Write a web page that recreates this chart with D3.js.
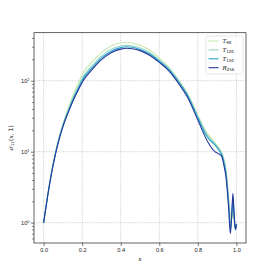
<!DOCTYPE html>
<html>
<head>
<meta charset="utf-8">
<script src="https://cdn.jsdelivr.net/npm/d3@7"></script>
<style>
  html, body { margin: 0; padding: 0; background: #fff; }
  svg { display: block; font-family: "DejaVu Sans", sans-serif; }
  .grid line { stroke: #b0b0b0; stroke-width: 0.6; stroke-dasharray: 1.2,1.2; }
  .axis-g text { font-size: 5.6px; fill: #222; }
  .axis-g line { stroke: #222; stroke-width: 0.6; }
  .line-path { fill: none; stroke-width: 1.1; stroke-linejoin: round; }
  .math { font-family: "DejaVu Serif", serif; font-style: italic; }
</style>
</head>
<body>
<div id="chart"></div>
<script>
// sample positions along x
const xs = [0, 0.02, 0.04, 0.06, 0.08, 0.10, 0.13, 0.16, 0.18, 0.205, 0.25, 0.30, 0.35, 0.40, 0.43, 0.46, 0.50, 0.55, 0.60, 0.65, 0.69, 0.75, 0.80, 0.85, 0.888, 0.913, 0.925, 0.935, 0.948, 0.96, 0.969, 0.976, 0.982, 0.988, 0.995, 1.0];

const t90  = [1.0, 2.35, 5.0, 9.5, 16.2, 25.1, 43.4, 70.7, 93, 129, 183, 249, 308, 342, 347, 340, 315, 268, 210, 155, 112, 64, 33, 18, 13.5, 11, 9.5, 8.0, 5.2, 2.3, 1.3, 1.1, 1.4, 1.1, 0.85, 0.95];
const t120 = [1.0, 2.33, 4.9, 9.2, 15.5, 23.7, 40, 64, 83, 114, 160, 222, 276, 308, 316, 310, 288, 247, 196, 148, 108, 61, 31, 17, 13, 10.6, 9.3, 7.6, 4.8, 2.0, 1.0, 1.2, 1.8, 1.2, 0.82, 0.95];
const t150 = [1.0, 2.31, 4.85, 9.05, 15.1, 23, 38.5, 60.5, 78, 107, 150, 209, 260, 292, 300, 295, 275, 237, 188, 143, 105, 60, 30, 16, 12.5, 10.2, 9.0, 7.2, 4.5, 1.8, 0.8, 1.3, 2.2, 1.3, 0.8, 0.95];
const r256 = [1.0, 2.3, 4.8, 8.9, 14.8, 22.4, 37, 57.5, 74, 100, 142, 198, 248, 278, 286, 281, 265, 228, 181, 138, 100, 56, 28, 14, 10, 9.2, 8.5, 6.5, 4.0, 1.6, 0.7, 1.3, 2.6, 1.4, 0.8, 0.95];

const seriesNames = ["T90", "T120", "T150", "R256"];
const seriesColors = ["#c6e8b0", "#8ed4c2", "#2a9fcc", "#24379a"];
const xTicks = [0, 0.2, 0.4, 0.6, 0.8, 1.0];
const yTicks = [1, 10, 100];

const width = 274, height = 274;
const marginLeft = 34, marginRight = 28, marginTop = 32.7, marginBottom = 31;

const x = d3.scaleLinear().domain([-0.05, 1.05]).range([marginLeft, width - marginRight]);
const y = d3.scaleLog().domain([0.518, 474]).range([height - marginBottom, marginTop]);

const svg = d3.select("#chart").append("svg")
  .attr("width", width).attr("height", height)
  .attr("viewBox", [0, 0, width, height]);

// grid
const grid = svg.append("g").attr("class", "grid");
grid.selectAll(".gx").data(xTicks).join("line")
  .attr("x1", d => x(d)).attr("x2", d => x(d))
  .attr("y1", marginTop).attr("y2", height - marginBottom);
grid.selectAll(".gy").data(yTicks).join("line")
  .attr("y1", d => y(d)).attr("y2", d => y(d))
  .attr("x1", marginLeft).attr("x2", width - marginRight);

// lines
const series = [t90, t120, t150, r256].map((values, i) => ({
  name: seriesNames[i], color: seriesColors[i], values
}));

const line = d3.line()
  .x((_, i) => x(xs[i]))
  .y(d => y(d))
  .curve(d3.curveMonotoneX);

svg.append("g").selectAll(".line-path").data(series).join("path")
  .attr("class", "line-path")
  .attr("stroke", d => d.color)
  .attr("d", d => line(d.values));

// axes
svg.append("g").attr("class", "axis-g")
  .attr("transform", `translate(0,${height - marginBottom})`)
  .call(d3.axisBottom(x).tickValues(xTicks).tickFormat(d3.format(".1f")).tickSize(3).tickPadding(2))
  .call(g => g.select(".domain").remove());

const minorTicks = [];
for (const dec of [0.1, 1, 10, 100]) {
  for (let k = 2; k <= 9; k++) {
    const v = dec * k;
    if (v >= y.domain()[0] && v <= y.domain()[1]) minorTicks.push(v);
  }
}
svg.append("g").attr("class", "axis-g")
  .attr("transform", `translate(${marginLeft},0)`)
  .call(d3.axisLeft(y).tickValues(minorTicks).tickFormat("").tickSize(1.8))
  .call(g => g.select(".domain").remove());

const gY = svg.append("g").attr("class", "axis-g")
  .attr("transform", `translate(${marginLeft},0)`)
  .call(d3.axisLeft(y).tickValues(yTicks).tickFormat("").tickSize(3))
  .call(g => g.select(".domain").remove());

gY.selectAll(".tick").append("text")
  .attr("x", -4.5).attr("dy", "0.35em").attr("text-anchor", "end")
  .call(t => t.append("tspan").text("10"))
  .call(t => t.append("tspan").attr("dy", "-0.45em").style("font-size", "3.9px")
    .text(d => Math.round(Math.log10(d))));

// frame
svg.append("rect")
  .attr("x", marginLeft).attr("y", marginTop)
  .attr("width", width - marginLeft - marginRight)
  .attr("height", height - marginTop - marginBottom)
  .attr("fill", "none").attr("stroke", "#222").attr("stroke-width", 0.7);

// axis labels
svg.append("text").attr("class", "math")
  .attr("x", (marginLeft + width - marginRight) / 2).attr("y", 261)
  .attr("text-anchor", "middle").style("font-size", "6px").text("x");

const yl = svg.append("text")
  .attr("transform", `translate(13,${(marginTop + height - marginBottom) / 2}) rotate(-90)`)
  .attr("text-anchor", "middle").style("font-size", "6px");
yl.append("tspan").attr("class", "math").text("σ");
yl.append("tspan").attr("dy", "1.2").style("font-size", "4.2px").text("11");
yl.append("tspan").attr("dy", "-1.2").text("(");
yl.append("tspan").attr("class", "math").text("x");
yl.append("tspan").text(", 1)");

// legend
const lg = svg.append("g").attr("transform", "translate(206,36)");
lg.append("rect").attr("width", 37).attr("height", 38).attr("rx", 1.5)
  .attr("fill", "#fff").attr("fill-opacity", 0.85)
  .attr("stroke", "#d6d6d6").attr("stroke-width", 0.6);
const item = lg.selectAll(".item").data(series).join("g")
  .attr("transform", (d, i) => `translate(0,${5 + i * 8.9})`);
item.append("line").attr("x1", 2.5).attr("x2", 12.5)
  .attr("stroke", d => d.color).attr("stroke-width", 1.1);
const it = item.append("text").attr("x", 16.5).attr("dy", "0.35em").style("font-size", "5.6px");
it.append("tspan").attr("class", "math").text(d => d.name[0]);
it.append("tspan").attr("dy", 1.3).style("font-size", "3.9px").text(d => d.name.slice(1));
</script>
</body>
</html>
